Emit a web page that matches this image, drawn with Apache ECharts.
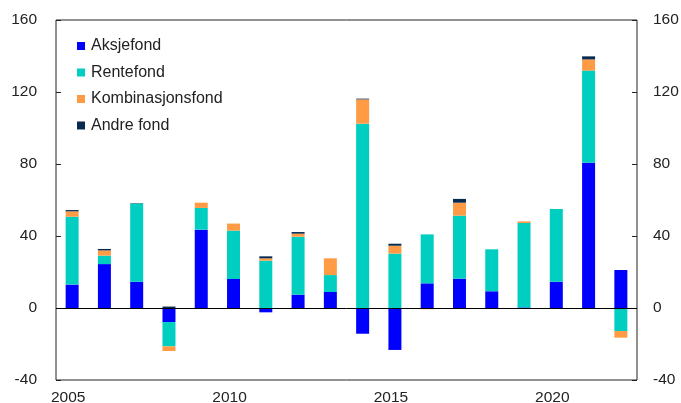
<!DOCTYPE html>
<html>
<head>
<meta charset="utf-8">
<script src="https://cdn.jsdelivr.net/npm/echarts@6/dist/echarts.min.js"></script>
<style>
  html, body { margin: 0; padding: 0; background: #fff; }
  #main { width: 681px; height: 403px; }
</style>
</head>
<body>
<div id="main"></div>
<script>
var years = ['2005', '2006', '2007', '2008', '2009', '2010', '2011', '2012', '2013',
  '2014', '2015', '2016', '2017', '2018', '2019', '2020', '2021', '2022'];
var aksjefond = [13.0, 24.4, 14.6, -7.8, 43.5, 16.1, -2.4, 7.4, 8.9,
  -14.3, -23.3, 13.7, 16.3, 9.3, 0.3, 14.6, 80.7, 21.1];
var rentefond = [37.7, 4.7, 43.5, -13.5, 12.1, 26.9, 26.3, 32.2, 9.4,
  102.4, 30.2, 27.2, 35.0, 23.3, 46.9, 40.4, 51.2, -12.8];
var kombinasjonsfond = [3.0, 2.9, -0.3, -2.6, 2.9, 3.9, 1.3, 1.7, 9.3,
  13.5, 4.4, -0.7, 7.2, -0.3, 0.9, -0.3, 6.2, -3.7];
var andreFond = [0.7, 0.8, 0.2, 0.8, 0, -0.5, 1.1, 0.9, 0,
  0.4, 1.1, 0, 2.1, 0, 0, 0, 1.7, 0];
var yTicks = { min: -40, max: 160, interval: 40 };

var labelFont = { fontFamily: 'Liberation Sans, Arial, sans-serif', fontSize: 15.5, color: '#222' };

function bar(name, data, color) {
  return {
    name: name,
    type: 'bar',
    stack: 'total',
    barWidth: 13,
    itemStyle: { color: color },
    data: data
  };
}

var series = [
  bar('Aksjefond', aksjefond, '#0000ff'),
  bar('Rentefond', rentefond, '#00cec0'),
  bar('Kombinasjonsfond', kombinasjonsfond, '#ff9a45'),
  bar('Andre fond', andreFond, '#062a50')
];
// nulllinje
series[0].markLine = {
  silent: true,
  symbol: 'none',
  label: { show: false },
  lineStyle: { color: '#000', width: 1, type: 'solid' },
  data: [{ yAxis: 0 }]
};

var chart = echarts.init(document.getElementById('main'));
chart.setOption({
  animation: false,
  grid: {
    left: 56,
    right: 44,
    top: 20,
    bottom: 23,
    show: true,
    borderColor: '#222',
    borderWidth: 1,
    containLabel: false,
    outerBoundsMode: 'none'
  },
  legend: {
    orient: 'vertical',
    left: 77,
    top: 38,
    padding: 0,
    itemWidth: 8,
    itemHeight: 8,
    itemGap: 10.5,
    icon: 'rect',
    textStyle: { fontFamily: 'Liberation Sans, Arial, sans-serif', fontSize: 16, color: '#222', padding: [0, 0, 0, 1] },
    data: ['Aksjefond', 'Rentefond', 'Kombinasjonsfond', 'Andre fond']
  },
  xAxis: {
    type: 'category',
    data: years,
    axisLine: { show: false, onZero: false },
    axisTick: { show: false },
    axisLabel: Object.assign({
      margin: 10,
      padding: [0, 8, 0, 0],
      interval: function (idx, val) { return Number(val) % 5 === 0; }
    }, labelFont)
  },
  yAxis: [{
    type: 'value',
    min: yTicks.min, max: yTicks.max, interval: yTicks.interval,
    axisLine: { show: false },
    axisTick: { show: true, inside: true, length: 5, lineStyle: { color: '#222' } },
    splitLine: { show: false },
    axisLabel: Object.assign({ margin: 19 }, labelFont)
  }, {
    type: 'value',
    position: 'right',
    min: yTicks.min, max: yTicks.max, interval: yTicks.interval,
    axisLine: { show: false },
    axisTick: { show: true, inside: true, length: 5, lineStyle: { color: '#222' } },
    splitLine: { show: false },
    axisLabel: Object.assign({ margin: 16 }, labelFont)
  }],
  series: series
});
</script>
</body>
</html>
